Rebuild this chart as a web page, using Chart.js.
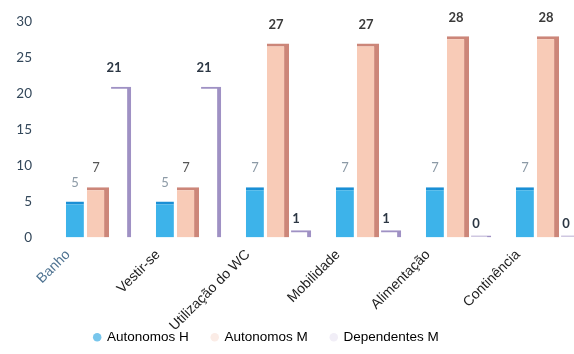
<!DOCTYPE html>
<html>
<head>
<meta charset="utf-8">
<script src="https://cdn.jsdelivr.net/npm/chart.js@4.4.0/dist/chart.umd.min.js"></script>
<style>
  html, body { margin: 0; padding: 0; background: #fff; overflow: hidden; }
  #caixa { width: 600px; height: 354px; }
</style>
</head>
<body>
<div id="caixa"><canvas id="grafico"></canvas></div>
<script>
const categorias = ["Banho", "Vestir-se", "Utilização do WC", "Mobilidade", "Alimentação", "Continência"];
const autonomosH = [5, 5, 7, 7, 7, 7];
const autonomosM = [7, 7, 27, 27, 28, 28];
const dependentesM = [21, 21, 1, 1, 0, 0];
const coresCategorias = ["#4f7391", "#222", "#222", "#222", "#222", "#222"];

// escreve o valor por cima de cada barra
const etiquetas = {
  id: 'etiquetas',
  afterDatasetsDraw(chart) {
    const ctx = chart.ctx;
    chart.data.datasets.forEach((ds, i) => {
      const meta = chart.getDatasetMeta(i);
      meta.data.forEach((barra, j) => {
        const v = ds.data[j];
        ctx.save();
        ctx.font = (v >= 20 || i === 2 ? 'bold ' : '') + '13px Lato';
        ctx.fillStyle = typeof ds.corEtiqueta === 'function' ? ds.corEtiqueta(v) : ds.corEtiqueta;
        ctx.textAlign = 'center';
        ctx.textBaseline = 'middle';
        let x = barra.x + (ds.desvioEtiqueta || 0);
        let y = barra.y - 19;
        if (i === 2 && v < 5) { x = barra.x - 5; y = barra.y - 12; }
        ctx.fillText(String(v), x, y);
        ctx.restore();
      });
    });
  }
};

// legenda mais para a esquerda; os nomes das categorias podem descer sobre a legenda
const ajustes = {
  id: 'ajustes',
  afterLayout(chart) {
    chart.legend.left = 0;
    chart.legend.right = 533;
    chart.scales.x.bottom = chart.height;
  }
};

const graphic = document.getElementById("grafico");
const chart = new Chart(graphic, {
  type: 'bar',
  data: {
    labels: categorias,
    datasets: [
      {
        label: "Autonomos H",
        data: autonomosH,
        backgroundColor: '#3db3ea',
        borderColor: '#1a8fd5',
        borderWidth: { top: 3, right: 0, left: 0, bottom: 0 },
        borderSkipped: false,
        barPercentage: 0.78,
        categoryPercentage: 0.77,
        corEtiqueta: '#8c9aa6'
      },
      {
        label: "Autonomos M",
        data: autonomosM,
        backgroundColor: '#f8cbb7',
        borderColor: '#cc8679',
        borderWidth: { top: 3, right: 5, left: 0, bottom: 0 },
        borderSkipped: false,
        barPercentage: 0.96,
        categoryPercentage: 0.77,
        corEtiqueta: v => v > 20 ? '#3a3a3a' : '#555',
        desvioEtiqueta: -2
      },
      {
        label: "Dependentes M",
        data: dependentesM,
        backgroundColor: 'rgba(0,0,0,0)',
        borderColor: '#9f91c4',
        borderWidth: { top: 2, right: 4, left: 0, bottom: 0 },
        borderSkipped: false,
        minBarLength: 2,
        barPercentage: 0.87,
        categoryPercentage: 0.77,
        corEtiqueta: '#2c3744',
        desvioEtiqueta: -7
      }
    ]
  },
  options: {
    responsive: true,
    maintainAspectRatio: false,
    animation: false,
    layout: { padding: { left: 15, top: 22, right: 7, bottom: 0 } },
    scales: {
      y: {
        min: 0,
        max: 30,
        afterFit(scale) {
          scale.width = 38;
          scale.paddingTop = 0;
          scale.paddingBottom = 0;
        },
        ticks: {
          stepSize: 5,
          padding: 21,
          color: '#33475a',
          font: { family: 'Lato', size: 13.5 }
        },
        grid: { display: false, drawTicks: false },
        border: { display: false }
      },
      x: {
        afterFit(scale) {
          scale.paddingLeft = 0;
          scale.paddingRight = 0;
          scale.height = 70;
        },
        ticks: {
          minRotation: 45,
          maxRotation: 45,
          padding: 9,
          labelOffset: -30,
          color: ctx => coresCategorias[ctx.index],
          font: { family: 'Liberation Sans', size: 14 }
        },
        grid: { display: false, drawTicks: false },
        border: { display: false }
      }
    },
    plugins: {
      tooltip: { enabled: false },
      legend: {
        position: 'bottom',
        labels: {
          usePointStyle: true,
          boxWidth: 6,
          boxHeight: 6,
          padding: 23,
          color: '#1e1e1e',
          font: { family: 'Liberation Sans', size: 13.5 },
          generateLabels(chart) {
            const marcas = ['#78c6ec', '#fbece6', '#f1eef7'];
            return chart.data.datasets.map((ds, i) => ({
              text: ds.label,
              fillStyle: marcas[i],
              strokeStyle: marcas[i],
              lineWidth: 0,
              pointStyle: 'circle',
              datasetIndex: i
            }));
          }
        }
      }
    }
  },
  plugins: [etiquetas, ajustes]
});
</script>
</body>
</html>
